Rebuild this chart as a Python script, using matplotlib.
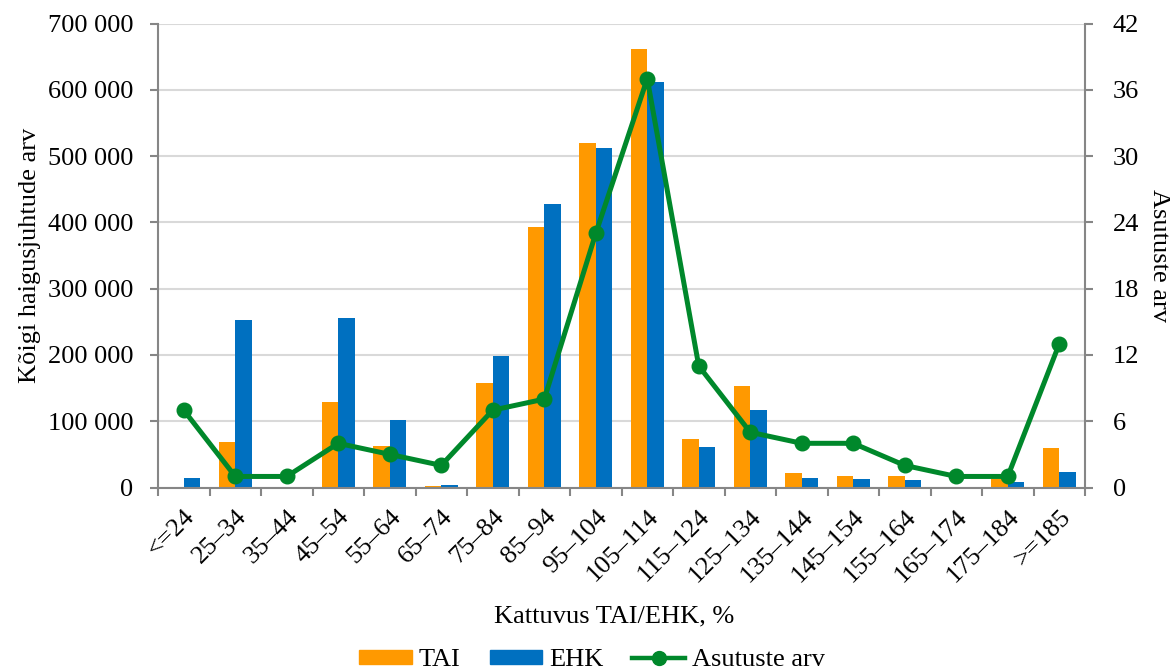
import matplotlib
matplotlib.use("Agg")
import matplotlib.pyplot as plt
from matplotlib.ticker import FuncFormatter, MultipleLocator
from matplotlib.lines import Line2D
from matplotlib.patches import Patch
import numpy as np

categories = ["<=24", "25–34", "35–44", "45–54", "55–64", "65–74", "75–84", "85–94",
              "95–104", "105–114", "115–124", "125–134", "135–144", "145–154",
              "155–164", "165–174", "175–184", ">=185"]
tai = [0, 68000, 0, 129000, 63000, 2500, 158000, 393000, 519000, 661000,
       73000, 153000, 22000, 17000, 17000, 1000, 13000, 60000]
ehk = [15000, 253000, 1000, 255000, 102000, 3500, 199000, 428000, 512000, 612000,
       61000, 117000, 15000, 12500, 11500, 0, 9000, 23000]
asutused = [7, 1, 1, 4, 3, 2, 7, 8, 23, 37, 11, 5, 4, 4, 2, 1, 1, 13]

plt.rcParams['font.family'] = ['Liberation Serif', 'DejaVu Serif']
plt.rcParams['font.size'] = 19

c_tai = '#FF9900'
c_ehk = '#0070C0'
c_line = '#00882B'
c_axis = '#868686'

fig = plt.figure(figsize=(11.7, 6.71), dpi=100)
ax_l, ax_b, ax_w, ax_h = 158/1170, 1 - 487.5/671, (1085 - 158)/1170, (487.5 - 23.5)/671
ax = fig.add_axes([ax_l, ax_b, ax_w, ax_h])
x = np.arange(len(categories))
w = 0.325
ax.bar(x - w/2, tai, width=w, color=c_tai, zorder=2)
ax.bar(x + w/2, ehk, width=w, color=c_ehk, zorder=2)
ax.set_xlim(-0.5, len(categories) - 0.5)
ax.set_ylim(0, 700000)
ax.yaxis.set_major_locator(MultipleLocator(100000))
ax.yaxis.set_major_formatter(FuncFormatter(lambda v, p: f"{int(v):,}".replace(",", " ")))
ax.grid(axis='y', color='#D9D9D9', linewidth=1.5, zorder=0)
ax.set_axisbelow(True)
ax.set_xticks(x)
ax.set_xticklabels(categories, rotation=45, ha='right', va='top', rotation_mode='anchor')
ax.set_xticks(np.arange(-0.5, len(categories)), minor=True)
ax.tick_params(axis='x', which='major', length=0, pad=13)
ax.tick_params(axis='x', which='minor', length=6, width=1.5, color=c_axis)
ax.tick_params(axis='y', length=6, width=1.5, color=c_axis, pad=12)
for s in ['top', 'right']:
    ax.spines[s].set_visible(False)
for s in ['left', 'bottom']:
    ax.spines[s].set_color(c_axis)
    ax.spines[s].set_linewidth(1.5)
ax.set_ylabel("Kõigi haigusjuhtude arv", va='center')
ax.yaxis.set_label_coords((30 - 158) / 927, 0.5)
ax.set_xlabel("Kattuvus TAI/EHK, %", va='center')
ax.xaxis.set_label_coords((614 - 158) / 927, (487.5 - 616) / 464)

ax2 = ax.twinx()
ax2.plot(x, asutused, color=c_line, linewidth=3.6, marker='o', markersize=10.5, zorder=3)
ax2.set_ylim(0, 42)
ax2.yaxis.set_major_locator(MultipleLocator(6))
ax2.tick_params(axis='y', length=6, width=1.5, color=c_axis, pad=14)
for s in ['top', 'left', 'bottom']:
    ax2.spines[s].set_visible(False)
ax2.spines['right'].set_color(c_axis)
ax2.spines['right'].set_linewidth(1.5)
ax2.set_ylabel("Asutuste arv", rotation=270, va='center')
ax2.yaxis.set_label_coords((1159 - 158) / 927, 0.5)

handles = [Patch(color=c_tai), Patch(color=c_ehk),
           Line2D([0], [0], color=c_line, linewidth=3.2, marker='o', markersize=10)]
fig.legend(handles, ["TAI", "EHK", "Asutuste arv"], loc='center',
           bbox_to_anchor=(592 / 1170, 1 - 660 / 671), ncol=3, frameon=False,
           handlelength=2.0, handleheight=0.45, handletextpad=0.25,
           columnspacing=1.1, fontsize=19, borderpad=0)

fig.savefig("out.png", dpi=100)
